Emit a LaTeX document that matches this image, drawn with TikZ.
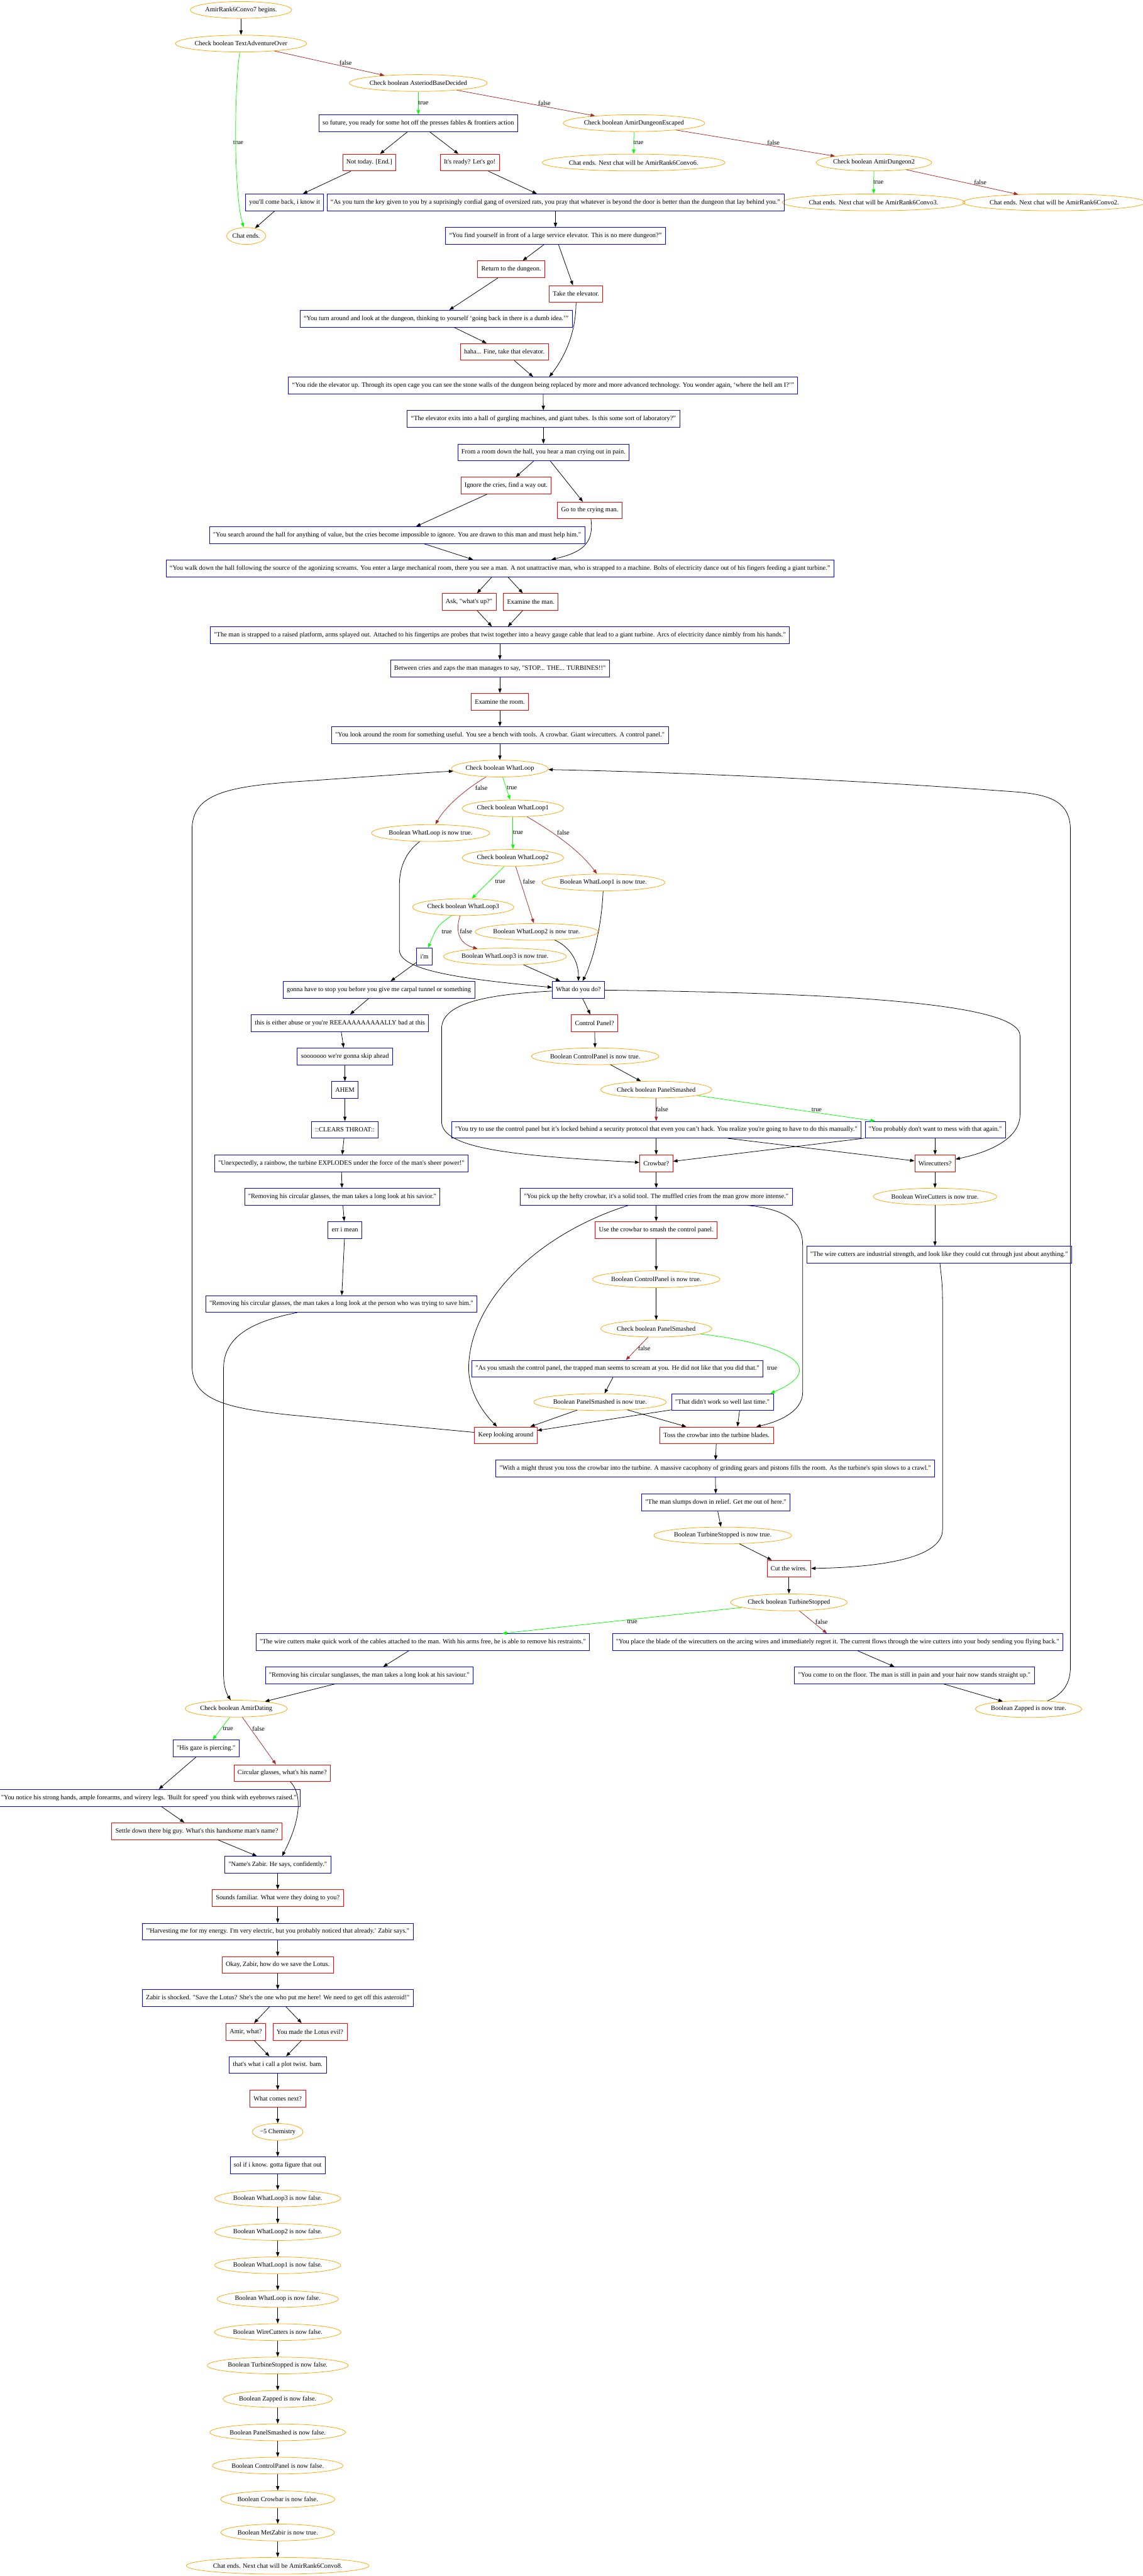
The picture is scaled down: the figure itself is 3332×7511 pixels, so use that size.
\documentclass[tikz,border=0pt]{standalone}
\usepackage{fontspec}
\newfontfamily\gvserif{Liberation Serif}
\usetikzlibrary{shapes.geometric,arrows.meta,calc}
\definecolor{gvorange}{HTML}{FFA500}
\definecolor{gvblue}{HTML}{0000FF}
\definecolor{gvred}{HTML}{FF0000}
\definecolor{gvgreen}{HTML}{00FF00}
\definecolor{gvbrown}{HTML}{A52A2A}
\newcommand\gvtext{\gvserif\fontsize{9.52pt}{11pt}\selectfont}
\begin{document}
\begin{tikzpicture}[x=0.5pt,y=-0.5pt,
  every node/.style={font=\gvtext},
  ell/.style={ellipse, draw=gvorange, line width=0.7pt, inner xsep=0pt, inner ysep=0pt, minimum height=24.5pt},
  bbox/.style={rectangle, draw=gvblue, line width=0.7pt, inner xsep=5.4pt, inner ysep=0pt, minimum height=24.5pt},
  rbox/.style={rectangle, draw=gvred, line width=0.7pt, inner xsep=5.4pt, inner ysep=0pt, minimum height=24.5pt},
  conn/.style={draw=black, line width=0.7pt, -{Triangle[length=6.5pt,width=4.8pt]}},
  tconn/.style={conn, draw=gvgreen},
  fconn/.style={conn, draw=gvbrown},
  lbl/.style={inner sep=0pt}
]
\fill[white] (0,0) rectangle (3332,7511);
\useasboundingbox (0,0) rectangle (3332,7511);

% ---------- top ----------
\node[ell] (begin) at (703,29) {AmirRank6Convo7 begins.};
\node[ell] (tao) at (703,127) {Check boolean TextAdventureOver};
\node[ell] (abd) at (1220,242) {Check boolean AsteriodBaseDecided};
\node[ell] (ade) at (1849,359) {Check boolean AmirDungeonEscaped};
\node[ell] (ce6) at (1848,474) {Chat ends. Next chat will be AmirRank6Convo6.};
\node[ell] (ad2) at (2549,474) {Check boolean AmirDungeon2};
\node[ell] (ce3) at (2548,590) {Chat ends. Next chat will be AmirRank6Convo3.};
\node[ell] (ce2) at (3075,590) {Chat ends. Next chat will be AmirRank6Convo2.};
\node[bbox] (sofut) at (1220,359) {so future, you ready for some hot off the presses fables \& frontiers action};
\node[rbox] (nottoday) at (1077,474) {Not today. [End.]};
\node[rbox] (ready) at (1370,474) {It's ready? Let's go!};
\node[bbox] (comeback) at (830,590) {you'll come back, i know it};
\node[bbox] (turnkey) at (1620,590) {“As you turn the key given to you by a suprisingly cordial gang of oversized rats, you pray that whatever is beyond the door is better than the dungeon that lay behind you.”};
\node[ell] (chatend) at (718,688) {Chat ends.};
\node[bbox] (findyou) at (1620,688) {“You find yourself in front of a large service elevator. This is no mere dungeon?”};
\node[rbox] (returnd) at (1491,785) {Return to the dungeon.};
\node[rbox] (takeel) at (1680,857) {Take the elevator.};
\node[bbox] (turnaround) at (1272,929) {“You turn around and look at the dungeon, thinking to yourself ‘going back in there is a dumb idea.’”};
\node[rbox] (haha) at (1471,1026) {haha... Fine, take that elevator.};
\node[bbox] (ride) at (1584,1124) {“You ride the elevator up. Through its open cage you can see the stone walls of the dungeon being replaced by more and more advanced technology. You wonder again, ‘where the hell am I?’”};
\node[bbox] (hall) at (1585,1221) {“The elevator exits into a hall of gurgling machines, and giant tubes. Is this some sort of laboratory?”};
\node[bbox] (fromroom) at (1585,1319) {From a room down the hall, you hear a man crying out in pain.};
\node[rbox] (ignore) at (1476,1416) {Ignore the cries, find a way out.};
\node[rbox] (goto) at (1720,1488) {Go to the crying man.};
\node[bbox, anchor=east] (search) at (1706,1560) {"You search around the hall for anything of value, but the cries become impossible to ignore. You are drawn to this man and must help him."};
\node[bbox] (walk) at (1458,1657) {“You walk down the hall following the source of the agonizing screams. You enter a large mechanical room, there you see a man. A not unattractive man, who is strapped to a machine. Bolts of electricity dance out of his fingers feeding a giant turbine.”};
\node[rbox] (ask) at (1368,1755) {Ask, "what's up?"};
\node[rbox] (exman) at (1548,1755) {Examine the man.};
\node[bbox] (strapped) at (1458,1852) {"The man is strapped to a raised platform, arms splayed out. Attached to his fingertips are probes that twist together into a heavy gauge cable that lead to a giant turbine. Arcs of electricity dance nimbly from his hands."};
\node[bbox] (between) at (1458,1949) {Between cries and zaps the man manages to say, "STOP... THE... TURBINES!!"};
\node[rbox] (exroom) at (1458,2046) {Examine the room.};
\node[bbox] (lookaround) at (1458,2143) {"You look around the room for something useful. You see a bench with tools. A crowbar. Giant wirecutters. A control panel."};

% ---------- loop ----------
\node[ell] (wl) at (1458,2241) {Check boolean WhatLoop};
\node[ell] (wl1) at (1496,2357) {Check boolean WhatLoop1};
\node[ell] (wlt) at (1256,2429) {Boolean WhatLoop is now true.};
\node[ell] (wl2) at (1496,2501) {Check boolean WhatLoop2};
\node[ell] (wl1t) at (1760,2573) {Boolean WhatLoop1 is now true.};
\node[ell] (wl3) at (1351,2645) {Check boolean WhatLoop3};
\node[ell] (wl2t) at (1565,2717) {Boolean WhatLoop2 is now true.};
\node[bbox] (im) at (1238,2789) {i'm};
\node[ell] (wl3t) at (1473,2789) {Boolean WhatLoop3 is now true.};
\node[bbox, anchor=east] (gonna) at (1385,2886) {gonna have to stop you before you give me carpal tunnel or something};
\node[bbox] (wdyd) at (1687,2886) {What do you do?};
\node[bbox, anchor=east] (either) at (1251,2983) {this is either abuse or you're REEAAAAAAAAALLY bad at this};
\node[rbox] (cpq) at (1734,2983) {Control Panel?};
\node[bbox] (sooo) at (1006,3080) {sooooooo we're gonna skip ahead};
\node[ell] (cpt) at (1736,3080) {Boolean ControlPanel is now true.};
\node[bbox] (ahem) at (1006,3178) {AHEM};
\node[ell] (ps) at (1914,3177) {Check boolean PanelSmashed};
\node[bbox] (clears) at (1006,3294) {::CLEARS THROAT::};
\node[bbox] (trypanel) at (1914,3294) {"You try to use the control panel but it’s locked behind a security protocol that even you can’t hack. You realize you're going to have to do this manually."};
\node[bbox] (probably) at (2728,3294) {"You probably don't want to mess with that again."};
\node[bbox, anchor=east] (explodes) at (1366,3392) {"Unexpectedly, a rainbow, the turbine EXPLODES under the force of the man's sheer power!"};
\node[rbox] (crowbarq) at (1914,3392) {Crowbar?};
\node[rbox] (wirecq) at (2727,3392) {Wirecutters?};
\node[bbox, anchor=east] (savior) at (1284,3489) {"Removing his circular glasses, the man takes a long look at his savior."};
\node[bbox] (pickup) at (1914,3489) {"You pick up the hefty crowbar, it's a solid tool. The muffled cries from the man grow more intense."};
\node[ell] (wct) at (2727,3489) {Boolean WireCutters is now true.};
\node[bbox] (errmean) at (1006,3586) {err i mean};
\node[rbox] (usecrow) at (1914,3586) {Use the crowbar to smash the control panel.};
\node[bbox, anchor=west] (indus) at (2352,3658) {"The wire cutters are industrial strength, and look like they could cut through just about anything."};
\node[ell] (cpt2) at (1914,3730) {Boolean ControlPanel is now true.};
\node[bbox, anchor=east] (person) at (1392,3802) {"Removing his circular glasses, the man takes a long look at the person who was trying to save him."};
\node[ell] (ps2) at (1914,3874) {Check boolean PanelSmashed};
\node[bbox] (smash) at (1801,3991) {"As you smash the control panel, the trapped man seems to scream at you. He did not like that you did that."};
\node[ell] (pst) at (1750,4088) {Boolean PanelSmashed is now true.};
\node[bbox] (didnt) at (2107,4088) {"That didn't work so well last time."};
\node[rbox] (keep) at (1475,4185) {Keep looking around};
\node[rbox] (toss) at (2090,4185) {Toss the crowbar into the turbine blades.};
\node[bbox] (might) at (2086,4282) {"With a might thrust you toss the crowbar into the turbine. A massive cacophony of grinding gears and pistons fills the room. As the turbine's spin slows to a crawl."};
\node[bbox] (slumps) at (2088,4380) {"The man slumps down in relief. Get me out of here."};
\node[ell] (tst) at (2108,4477) {Boolean TurbineStopped is now true.};
\node[rbox] (cut) at (2301,4574) {Cut the wires.};
\node[ell] (checkts) at (2301,4672) {Check boolean TurbineStopped};
\node[bbox] (quick) at (1233,4788) {"The wire cutters make quick work of the cables attached to the man. With his arms free, he is able to remove his restraints."};
\node[bbox] (place) at (2443,4788) {"You place the blade of the wirecutters on the arcing wires and immediately regret it. The current flows through the wire cutters into your body sending you flying back."};
\node[bbox] (saviour2) at (1077,4885) {"Removing his circular sunglasses, the man takes a long look at his saviour."};
\node[bbox] (cometo) at (2667,4885) {"You come to on the floor. The man is still in pain and your hair now stands straight up."};
\node[ell] (dating) at (689,4982) {Check boolean AmirDating};
\node[ell] (zap) at (3000,4983) {Boolean Zapped is now true.};

% ---------- bottom ----------
\node[bbox] (gaze) at (601,5098) {"His gaze is piercing."};
\node[rbox] (circ) at (823,5170) {Circular glasses, what's his name?};
\node[bbox] (notice) at (434,5242) {"You notice his strong hands, ample forearms, and wirery legs. 'Built for speed' you think with eyebrows raised."};
\node[rbox] (settle) at (574,5339) {Settle down there big guy. What's this handsome man's name?};
\node[bbox] (names) at (810,5437) {"Name's Zabir. He says, confidently."};
\node[rbox] (sounds) at (810,5534) {Sounds familiar. What were they doing to you?};
\node[bbox] (harvest) at (810,5632) {"'Harvesting me for my energy. I'm very electric, but you probably noticed that already.' Zabir says."};
\node[rbox] (okay) at (810,5729) {Okay, Zabir, how do we save the Lotus.};
\node[bbox] (shocked) at (810,5826) {Zabir is shocked. "Save the Lotus? She's the one who put me here! We need to get off this asteroid!"};
\node[rbox] (amirwhat) at (717,5924) {Amir, what?};
\node[rbox] (lotusevil) at (904,5924) {You made the Lotus evil?};
\node[bbox] (plot) at (810,6021) {that's what i call a plot twist. bam.};
\node[rbox] (comesnext) at (810,6119) {What comes next?};
\node[ell] (chem) at (810,6216) {−5 Chemistry};
\node[bbox] (sol) at (810,6313) {sol if i know. gotta figure that out};
\node[ell] (f1) at (810,6410) {Boolean WhatLoop3 is now false.};
\node[ell] (f2) at (810,6508) {Boolean WhatLoop2 is now false.};
\node[ell] (f3) at (810,6605) {Boolean WhatLoop1 is now false.};
\node[ell] (f4) at (810,6703) {Boolean WhatLoop is now false.};
\node[ell] (f5) at (810,6800) {Boolean WireCutters is now false.};
\node[ell] (f6) at (810,6897) {Boolean TurbineStopped is now false.};
\node[ell] (f7) at (810,6995) {Boolean Zapped is now false.};
\node[ell] (f8) at (810,7092) {Boolean PanelSmashed is now false.};
\node[ell] (f9) at (810,7189) {Boolean ControlPanel is now false.};
\node[ell] (f10) at (810,7287) {Boolean Crowbar is now false.};
\node[ell] (f11) at (810,7384) {Boolean MetZabir is now true.};
\node[ell] (final) at (810,7481) {Chat ends. Next chat will be AmirRank6Convo8.};

% ---------- labels ----------
\node[lbl] (l1) at (1008,184) {false};
\node[lbl] (l2) at (1235,300) {true};
\node[lbl] (l3) at (1588,300) {false};
\node[lbl] (l4) at (695,416) {true};
\node[lbl] (l5) at (1862,416) {true};
\node[lbl] (l6) at (2256,416) {false};
\node[lbl] (l7) at (2562,532) {true};
\node[lbl] (l8) at (2859,532) {false};
\node[lbl] (l9) at (1404,2297) {false};
\node[lbl] (l10) at (1493,2297) {true};
\node[lbl] (l11) at (1511,2427) {true};
\node[lbl] (l12) at (1643,2427) {false};
\node[lbl] (l13) at (1459,2571) {true};
\node[lbl] (l14) at (1543,2571) {false};
\node[lbl] (l15) at (1303,2716) {true};
\node[lbl] (l16) at (1359,2716) {false};
\node[lbl] (l17) at (1931,3235) {false};
\node[lbl] (l18) at (2382,3235) {true};
\node[lbl] (l19) at (1879,3932) {false};
\node[lbl] (l20) at (2252,3990) {true};
\node[lbl] (l21) at (1844,4729) {true};
\node[lbl] (l22) at (2396,4729) {false};
\node[lbl] (l23) at (665,5040) {true};
\node[lbl] (l24) at (754,5040) {false};

% ---------- edges: top ----------
\draw[conn] (begin) -- (tao);
\draw[tconn] (tao) .. controls (683,260) and (681,560) .. (chatend);
\draw[fconn] (tao) -- (abd);
\draw[tconn] (abd) -- (sofut);
\draw[fconn] (abd) -- (ade);
\draw[tconn] (ade) -- (ce6);
\draw[fconn] (ade) -- (ad2);
\draw[tconn] (ad2) -- (ce3);
\draw[fconn] (ad2) -- (ce2);
\draw[conn] (sofut) -- (nottoday);
\draw[conn] (sofut) -- (ready);
\draw[conn] (nottoday) -- (comeback);
\draw[conn] (ready) -- (turnkey);
\draw[conn] (comeback) -- (chatend);
\draw[conn] (turnkey) -- (findyou);
\draw[conn] (findyou) -- (returnd);
\draw[conn] (findyou) -- (takeel);
\draw[conn] (returnd) -- (turnaround);
\draw[conn] (takeel) .. controls (1680,980) and (1640,1050) .. ($(ride.north)+(18,0)$);
\draw[conn] (turnaround) -- (haha);
\draw[conn] (haha) -- (ride);
\draw[conn] (ride) -- (hall);
\draw[conn] (hall) -- (fromroom);
\draw[conn] (fromroom) -- (ignore);
\draw[conn] (fromroom) -- (goto);
\draw[conn] (ignore) -- (search);
\draw[conn] (goto) .. controls (1734,1590) and (1690,1612) .. ($(walk.north)+(150,0)$);
\draw[conn] (search) -- (walk);
\draw[conn] (walk) -- (ask);
\draw[conn] (walk) -- (exman);
\draw[conn] (ask) -- (strapped);
\draw[conn] (exman) -- (strapped);
\draw[conn] (strapped) -- (between);
\draw[conn] (between) -- (exroom);
\draw[conn] (exroom) -- (lookaround);
\draw[conn] (lookaround) -- (wl);

% ---------- edges: loop ----------
\draw[tconn] (wl) -- (wl1);
\draw[fconn] (wl) .. controls (1360,2300) and (1300,2350) .. (wlt);
\draw[tconn] (wl1) -- (wl2);
\draw[fconn] (wl1) .. controls (1620,2430) and (1690,2480) .. (wl1t);
\draw[tconn] (wl2) -- (wl3);
\draw[fconn] (wl2) -- (wl2t);
\draw[tconn] (wl3) .. controls (1275,2700) .. (im);
\draw[fconn] (wl3) .. controls (1328,2710) and (1335,2750) .. (wl3t);
\draw[conn] (wlt) .. controls (1190,2480) and (1165,2520) .. (1165,2580) -- (1165,2770) .. controls (1165,2830) and (1350,2855) .. (wdyd);
\draw[conn] (wl1t) .. controls (1755,2700) and (1730,2800) .. ($(wdyd.north)+(12,0)$);
\draw[conn] (wl2t) .. controls (1660,2760) and (1688,2800) .. (wdyd.north);
\draw[conn] (wl3t) -- ($(wdyd.north)+(-53,0)$);
\draw[conn] (im) -- (gonna);
\draw[conn] (gonna) -- (either);
\draw[conn] (either) -- (sooo);
\draw[conn] (sooo) -- (ahem);
\draw[conn] (ahem) -- (clears);
\draw[conn] (clears) -- (explodes);
\draw[conn] (explodes) -- (savior);
\draw[conn] (savior) -- (errmean);
\draw[conn] (errmean) -- (person);
\draw[conn] (person) .. controls (750,3850) and (652,3890) .. (652,3990) -- (652,4880) .. controls (652,4920) and (662,4940) .. (dating);
\draw[conn] (wdyd) -- (cpq);
\draw[conn] (wdyd) .. controls (1400,2900) and (1288,2930) .. (1288,3000) -- (1288,3270) .. controls (1288,3350) and (1500,3370) .. (crowbarq);
\draw[conn] (wdyd) .. controls (2400,2895) and (2975,2920) .. (2975,3020) -- (2975,3250) .. controls (2975,3330) and (2860,3365) .. (wirecq);
\draw[conn] (cpq) -- (cpt);
\draw[conn] (cpt) -- (ps);
\draw[fconn] (ps) -- (trypanel);
\draw[tconn] (ps) -- (probably);
\draw[conn] (trypanel) -- (crowbarq);
\draw[conn] (trypanel) -- (wirecq);
\draw[conn] (probably) -- (crowbarq);
\draw[conn] (probably) -- (wirecq);
\draw[conn] (crowbarq) -- (pickup);
\draw[conn] (wirecq) -- (wct);
\draw[conn] (wct) -- (wct |- indus.north);
\draw[conn] (pickup) -- (usecrow);
\draw[conn] (pickup) .. controls (1560,3600) and (1367,3800) .. (1367,3990) .. controls (1367,4060) and (1410,4120) .. (keep);
\draw[conn] (pickup) .. controls (2290,3525) and (2341,3560) .. (2341,3630) -- (2341,4060) .. controls (2341,4120) and (2260,4148) .. (toss);
\draw[conn] (usecrow) -- (cpt2);
\draw[conn] (cpt2) -- (ps2);
\draw[fconn] (ps2) -- (smash);
\draw[tconn] (ps2) .. controls (2300,3920) and (2420,3990) .. ($(didnt.north)+(140,0)$);
\draw[conn] (smash) -- (pst);
\draw[conn] (pst) -- (keep);
\draw[conn] (pst) -- (toss);
\draw[conn] (didnt) -- (keep);
\draw[conn] ($(didnt.south)+(50,0)$) -- ($(toss.north)+(61,0)$);
\draw[conn] (keep) -- (850,4126) .. controls (650,4105) and (560,4080) .. (560,3980) -- (560,2420) .. controls (560,2320) and (650,2295) .. (850,2280) .. controls (1000,2270) and (1200,2255) .. (wl);
\draw[conn] (toss) -- (might);
\draw[conn] (might) -- (slumps);
\draw[conn] (slumps) -- (tst);
\draw[conn] (tst) -- (cut);
\draw[conn] (indus) .. controls (2745,3720) and (2749,3740) .. (2749,3790) -- (2749,4460) .. controls (2749,4545) and (2560,4570) .. (cut);
\draw[conn] (cut) -- (checkts);
\draw[tconn] (checkts) -- (quick);
\draw[fconn] (checkts) -- (place);
\draw[conn] (place) -- (cometo);
\draw[conn] (cometo) -- (zap);
\draw[conn] (zap) .. controls (3100,4940) and (3122,4910) .. (3122,4860) -- (3122,2420) .. controls (3122,2330) and (3050,2315) .. (2950,2308) .. controls (2500,2275) and (2000,2252) .. (wl);
\draw[conn] (quick) -- (saviour2);
\draw[conn] (saviour2) -- (dating);

% ---------- edges: bottom ----------
\draw[tconn] (dating) -- (gaze);
\draw[fconn] (dating) -- (circ);
\draw[conn] (gaze) -- (notice);
\draw[conn] (notice) -- (settle);
\draw[conn] (settle) -- (names);
\draw[conn] (circ) .. controls (880,5230) and (880,5300) .. (names);
\draw[conn] (names) -- (sounds);
\draw[conn] (sounds) -- (harvest);
\draw[conn] (harvest) -- (okay);
\draw[conn] (okay) -- (shocked);
\draw[conn] (shocked) -- (amirwhat);
\draw[conn] (shocked) -- (lotusevil);
\draw[conn] (amirwhat) -- (plot);
\draw[conn] (lotusevil) -- (plot);
\draw[conn] (plot) -- (comesnext);
\draw[conn] (comesnext) -- (chem);
\draw[conn] (chem) -- (sol);
\draw[conn] (sol) -- (f1);
\draw[conn] (f1) -- (f2);
\draw[conn] (f2) -- (f3);
\draw[conn] (f3) -- (f4);
\draw[conn] (f4) -- (f5);
\draw[conn] (f5) -- (f6);
\draw[conn] (f6) -- (f7);
\draw[conn] (f7) -- (f8);
\draw[conn] (f8) -- (f9);
\draw[conn] (f9) -- (f10);
\draw[conn] (f10) -- (f11);
\draw[conn] (f11) -- (final);
\end{tikzpicture}
\end{document}
